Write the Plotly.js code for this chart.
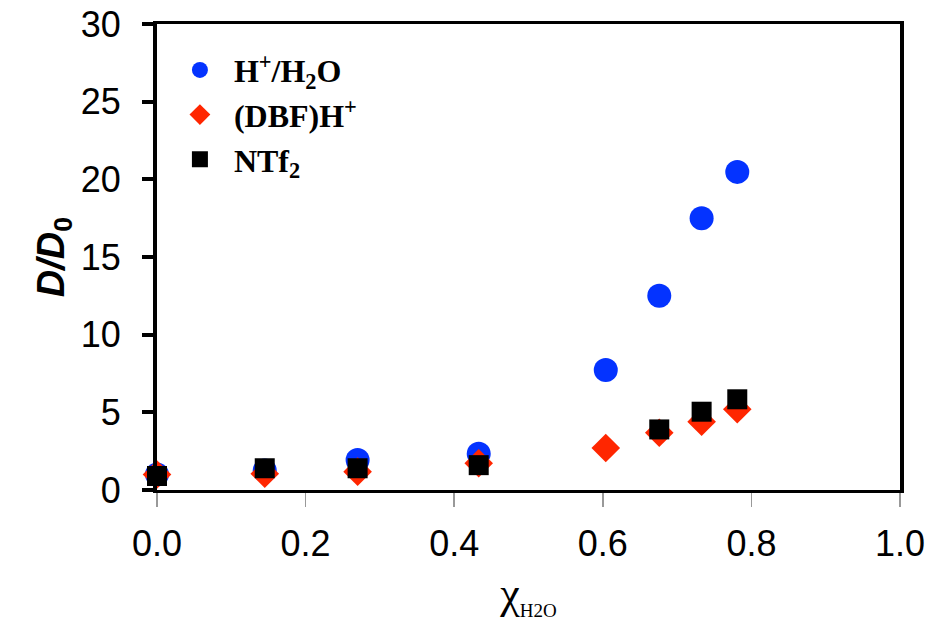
<!DOCTYPE html>
<html>
<head>
<meta charset="utf-8">
<script src="https://cdn.plot.ly/plotly-3.0.1.min.js"></script>
<style>html,body{margin:0;padding:0;background:#fff;}#chart{width:930px;height:621px;}</style>
</head>
<body>
<div id="chart"></div>
<script>
const seriesNames = ["H<sup>+</sup>/H<sub>2</sub>O", "(DBF)H<sup>+</sup>", "NTf<sub>2</sub>"];

const xH = [0.0, 0.145, 0.27, 0.433, 0.604, 0.676, 0.733, 0.781];
const yH = [1.0, 1.25, 1.93, 2.34, 7.73, 12.51, 17.49, 20.48];

const xDBF = [0.0, 0.145, 0.27, 0.433, 0.604, 0.676, 0.733, 0.781];
const yDBF = [1.0, 1.05, 1.18, 1.72, 2.7, 3.69, 4.4, 5.2];

const xNTf = [0.0, 0.145, 0.27, 0.433, 0.676, 0.733, 0.781];
const yNTf = [0.9, 1.4, 1.4, 1.6, 3.9, 5.04, 5.84];

const xTicks = [0, 0.2, 0.4, 0.6, 0.8, 1.0];
const xTickText = ["0.0", "0.2", "0.4", "0.6", "0.8", "1.0"];
const yTicks = [0, 5, 10, 15, 20, 25, 30];

const traces = [
  {x: xH, y: yH, name: seriesNames[0], type: "scatter", mode: "markers", cliponaxis: false,
   marker: {symbol: "circle", size: 24, color: "#0433FF"}},
  {x: xDBF, y: yDBF, name: seriesNames[1], type: "scatter", mode: "markers", cliponaxis: false,
   marker: {symbol: "diamond", size: 22, color: "#FF2600"}},
  {x: xNTf, y: yNTf, name: seriesNames[2], type: "scatter", mode: "markers", cliponaxis: false,
   marker: {symbol: "square", size: 20, color: "#000000"}}
];

const layout = {
  width: 930, height: 621,
  margin: {l: 157, r: 30, t: 24, b: 131},
  paper_bgcolor: "#fff", plot_bgcolor: "#fff",
  showlegend: true,
  legend: {x: 0.012, y: 0.96, xanchor: "left", yanchor: "top", bgcolor: "rgba(0,0,0,0)",
    font: {family: "Liberation Serif, Times New Roman, serif", size: 32, color: "#000", weight: "bold"},
    itemsizing: "trace", itemwidth: 58, tracegroupgap: 0},
  xaxis: {
    range: [0, 1], tickvals: xTicks, ticktext: xTickText,
    showgrid: false, zeroline: false,
    showline: true, linecolor: "#000", linewidth: 3, mirror: true,
    ticks: "outside", ticklen: 14, tickwidth: 1.5, tickcolor: "#999",
    ticklabelstandoff: 6,
    tickfont: {family: "Liberation Sans, Arial, sans-serif", size: 36, color: "#000"},
    title: {text: "χ<sub><span style=\"font-size:19px\">H2O</span></sub>", standoff: 14,
      font: {family: "Liberation Serif, Times New Roman, serif", size: 44, color: "#000"}}
  },
  yaxis: {
    range: [0, 30], tickvals: yTicks,
    showgrid: false, zeroline: false,
    showline: true, linecolor: "#000", linewidth: 4, mirror: true,
    ticks: "outside", ticklen: 11, tickwidth: 4, tickcolor: "#000",
    ticklabelstandoff: 14,
    tickfont: {family: "Liberation Sans, Arial, sans-serif", size: 36, color: "#000"},
    title: {text: "<b><i>D/D</i><sub>0</sub></b>", standoff: 5,
      font: {family: "Liberation Sans, Arial, sans-serif", size: 38, color: "#000"}}
  }
};

Plotly.newPlot("chart", traces, layout, {displayModeBar: false, staticPlot: true});
</script>
</body>
</html>
